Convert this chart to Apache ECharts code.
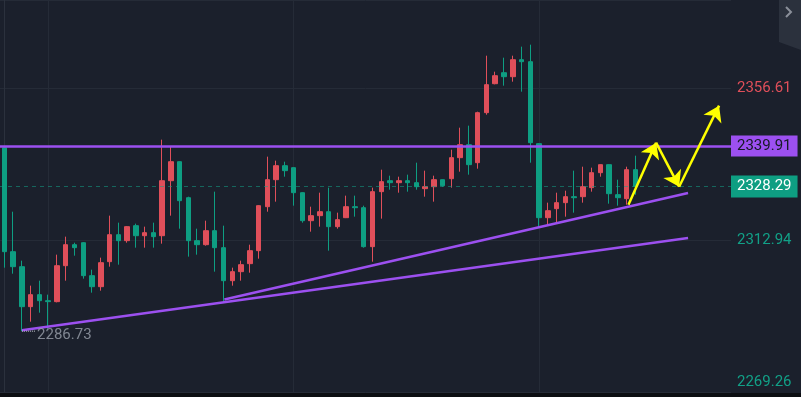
<!DOCTYPE html>
<html>
<head>
<meta charset="utf-8">
<script src="https://cdn.jsdelivr.net/npm/echarts@6/dist/echarts.min.js"></script>
<style>
html, body { margin: 0; padding: 0; background: #0c0e12; }
#chart { width: 801px; height: 393px; }
</style>
</head>
<body>
<div id="chart"></div>
<script>
// candles, oldest first: [open, close, low, high]
const candles = [
    [2339.41, 2309.55, 2304.96, 2339.70],
    [2309.55, 2305.24, 2303.23, 2321.03],
    [2305.24, 2293.76, 2286.73, 2306.97],
    [2293.76, 2297.21, 2289.45, 2299.79],
    [2297.21, 2295.48, 2292.04, 2301.22],
    [2295.48, 2295.20, 2287.44, 2297.21],
    [2295.20, 2305.53, 2295.00, 2308.69],
    [2305.53, 2311.56, 2301.22, 2313.86],
    [2311.56, 2310.70, 2308.40, 2312.13],
    [2312.13, 2302.66, 2301.80, 2312.30],
    [2302.66, 2299.50, 2297.78, 2304.38],
    [2299.50, 2306.39, 2298.35, 2307.83],
    [2306.68, 2314.43, 2305.24, 2319.89],
    [2314.43, 2312.71, 2305.82, 2317.88],
    [2312.71, 2316.73, 2312.13, 2316.90],
    [2317.02, 2314.14, 2310.70, 2317.59],
    [2314.14, 2315.01, 2310.70, 2316.73],
    [2315.01, 2313.86, 2310.70, 2317.88],
    [2314.14, 2329.93, 2311.85, 2341.71],
    [2329.93, 2335.39, 2319.89, 2339.70],
    [2335.39, 2324.19, 2316.15, 2335.50],
    [2325.05, 2312.71, 2308.12, 2325.34],
    [2312.71, 2311.56, 2308.69, 2316.15],
    [2311.56, 2315.58, 2311.27, 2318.45],
    [2315.58, 2310.70, 2303.81, 2326.78],
    [2310.70, 2301.22, 2295.20, 2317.02],
    [2301.22, 2303.81, 2299.79, 2304.96],
    [2303.81, 2305.82, 2301.22, 2306.97],
    [2306.11, 2309.84, 2303.52, 2311.56],
    [2309.84, 2322.76, 2307.54, 2322.90],
    [2322.47, 2330.22, 2321.03, 2336.83],
    [2330.22, 2334.24, 2323.91, 2335.68],
    [2334.24, 2332.81, 2331.08, 2335.39],
    [2333.67, 2326.49, 2322.76, 2333.80],
    [2326.49, 2318.45, 2317.88, 2326.60],
    [2318.45, 2319.89, 2315.29, 2322.47],
    [2319.89, 2321.03, 2316.73, 2326.49],
    [2321.03, 2316.73, 2309.84, 2327.93],
    [2316.73, 2318.74, 2316.15, 2320.75],
    [2319.31, 2322.47, 2319.20, 2325.63],
    [2322.47, 2322.18, 2319.60, 2325.63],
    [2322.18, 2310.99, 2310.70, 2322.76],
    [2310.99, 2326.78, 2306.68, 2327.93],
    [2326.78, 2329.65, 2319.03, 2333.09],
    [2329.93, 2329.36, 2327.35, 2331.37],
    [2329.36, 2329.93, 2326.49, 2331.08],
    [2329.93, 2329.36, 2326.78, 2331.66],
    [2329.36, 2328.21, 2327.35, 2335.10],
    [2327.64, 2328.21, 2325.34, 2332.81],
    [2328.21, 2330.22, 2323.91, 2331.37],
    [2330.22, 2328.50, 2328.21, 2330.30],
    [2330.51, 2336.54, 2327.93, 2338.83],
    [2336.54, 2340.27, 2332.52, 2345.15],
    [2340.27, 2334.53, 2331.66, 2345.73],
    [2335.10, 2349.46, 2333.38, 2349.74],
    [2349.46, 2357.50, 2348.88, 2365.82],
    [2357.78, 2360.08, 2357.60, 2361.23],
    [2360.94, 2359.79, 2357.21, 2365.25],
    [2359.79, 2364.67, 2358.36, 2365.82],
    [2364.67, 2364.10, 2355.49, 2368.41],
    [2364.10, 2340.84, 2335.10, 2368.98],
    [2340.56, 2319.31, 2316.73, 2340.70],
    [2319.31, 2321.32, 2317.30, 2323.62],
    [2321.90, 2323.62, 2317.88, 2326.49],
    [2323.62, 2325.34, 2319.60, 2327.06],
    [2325.34, 2325.05, 2320.75, 2332.81],
    [2325.34, 2328.21, 2323.62, 2333.95],
    [2327.93, 2332.23, 2326.78, 2333.67],
    [2332.23, 2334.53, 2331.08, 2334.60],
    [2334.53, 2326.20, 2323.33, 2334.60],
    [2325.92, 2325.05, 2322.76, 2330.22],
    [2324.77, 2333.09, 2323.04, 2333.95],
    [2333.09, 2328.29, 2325.92, 2337.11],
];

const yTickValues = [2269.26, 2312.94, 2356.61];
const yTickColors = ['#12a087', '#12a087', '#e04f5a'];
const resistance = 2339.91;
const lastPrice = 2328.29;
const lowPrice = 2286.73;
const lowIndex = 2;
const gridCols = [5, 33, 61];

// trend lines and the projected path, [candle index, price]
const lowerTrend = [[2.0, 2287.0], [78.0, 2313.5]];
const upperTrend = [[25.1, 2295.8], [78.0, 2326.4]];
const arrowPath = [[71.2, 2323.0], [74.35, 2340.85], [76.98, 2328.21], [81.54, 2351.47]];

const UP = '#e04f5a';
const DOWN = '#0e9e82';
const PURPLE = '#9c50f0';
const FONT = 'Roboto';

const chart = echarts.init(document.getElementById('chart'), null, { renderer: 'canvas' });

const arrowSegs = [];
for (let i = 1; i < arrowPath.length; i++) {
    arrowSegs.push({ coords: [arrowPath[i - 1], arrowPath[i]] });
}

chart.setOption({
    backgroundColor: '#1b202c',
    animation: false,
    grid: { left: 0, right: 70, top: 0, bottom: 1 },
    xAxis: {
        type: 'value', min: -0.5, max: 82.9,
        show: false,
        splitLine: { show: false },
    },
    yAxis: {
        type: 'value', position: 'right',
        min: 2269.26, max: 2381.81, interval: 43.675,
        axisLine: { show: true, lineStyle: { color: '#2b313d' } },
        axisTick: { show: false },
        splitLine: { lineStyle: { color: '#252b37', width: 1 } },
        axisLabel: {
            margin: 6,
            fontFamily: FONT,
            fontSize: 15,
            formatter: function (v) {
                for (let i = 0; i < yTickValues.length; i++) {
                    if (Math.abs(v - yTickValues[i]) < 0.1) {
                        const t = yTickValues[i].toFixed(2);
                        return i === 0 ? '{lo|' + t + '}' : t;
                    }
                }
                return '';
            },
            color: function (v) {
                let best = 0;
                yTickValues.forEach((t, i) => { if (Math.abs(v - t) < Math.abs(v - yTickValues[best])) best = i; });
                return yTickColors[best];
            },
            rich: {
                lo: { color: yTickColors[0], fontFamily: FONT, fontSize: 15, padding: [0, 0, 20, 0] },
            },
        },
    },
    graphic: [
        { type: 'polygon', shape: { points: [[779, 0], [801, 0], [801, 50], [779, 42]] }, style: { fill: '#2b313d' } },
        { type: 'polyline', shape: { points: [[786, 7], [791, 12], [786, 17]] }, style: { stroke: '#8b909a', lineWidth: 2, fill: null } },
    ],
    series: [
        {
            type: 'line', name: 'cols', data: [], silent: true,
            markLine: {
                z: 1, silent: true, symbol: 'none', label: { show: false },
                lineStyle: { color: '#252b37', width: 1, type: 'solid' },
                data: gridCols.map(c => ({ xAxis: c })),
            },
        },
        {
            type: 'candlestick',
            name: 'price',
            z: 2,
            barWidth: 5,
            data: candles.map((c, i) => [i, c[0], c[1], c[2], c[3]]),
            itemStyle: {
                color: UP, color0: DOWN,
                borderColor: UP, borderColor0: DOWN,
                borderWidth: 1,
            },
            markLine: {
                silent: true, symbol: 'none',
                data: [
                    {
                        yAxis: lastPrice,
                        lineStyle: { color: 'rgba(18,160,135,0.55)', width: 1, type: [4, 4] },
                        label: {
                            position: 'end', distance: 0, formatter: lastPrice.toFixed(2),
                            backgroundColor: '#0e9e82', color: '#ffffff',
                            fontFamily: FONT, fontSize: 15, lineHeight: 17, padding: [3, 6, 2, 6],
                        },
                    },
                    {
                        yAxis: resistance,
                        lineStyle: { color: PURPLE, width: 2.5, type: 'solid' },
                        label: {
                            position: 'end', distance: 0, formatter: resistance.toFixed(2),
                            backgroundColor: PURPLE, color: '#161a24',
                            fontFamily: FONT, fontSize: 15, lineHeight: 16, padding: [3, 6, 2, 6],
                        },
                    },
                ],
            },
        },
        {
            type: 'line', name: 'lower', data: lowerTrend, z: 5,
            symbol: 'none', lineStyle: { color: PURPLE, width: 2.5 },
        },
        {
            type: 'line', name: 'upper', data: upperTrend, z: 5,
            symbol: 'none', lineStyle: { color: PURPLE, width: 2.5 },
        },
        {
            type: 'line', name: 'lowmark', z: 5,
            data: [[lowIndex, lowPrice], [lowIndex + 1.5, lowPrice]],
            symbol: 'none', lineStyle: { color: '#c9cdd5', width: 1, type: 'dotted' },
        },
        {
            type: 'scatter', name: 'lowlabel', z: 5,
            data: [[lowIndex + 1.5, lowPrice]],
            symbolSize: 0,
            label: {
                show: true, position: 'right', distance: 2, offset: [0, 4],
                formatter: lowPrice.toFixed(2),
                color: '#9aa0ab', fontFamily: FONT, fontSize: 15,
            },
        },
        {
            type: 'lines', name: 'path', coordinateSystem: 'cartesian2d', z: 6,
            symbol: ['none', 'arrow'], symbolSize: 15,
            lineStyle: { color: '#ffff00', width: 2.5, opacity: 1, curveness: 0 },
            data: arrowSegs,
        },
    ],
});
</script>
</body>
</html>
